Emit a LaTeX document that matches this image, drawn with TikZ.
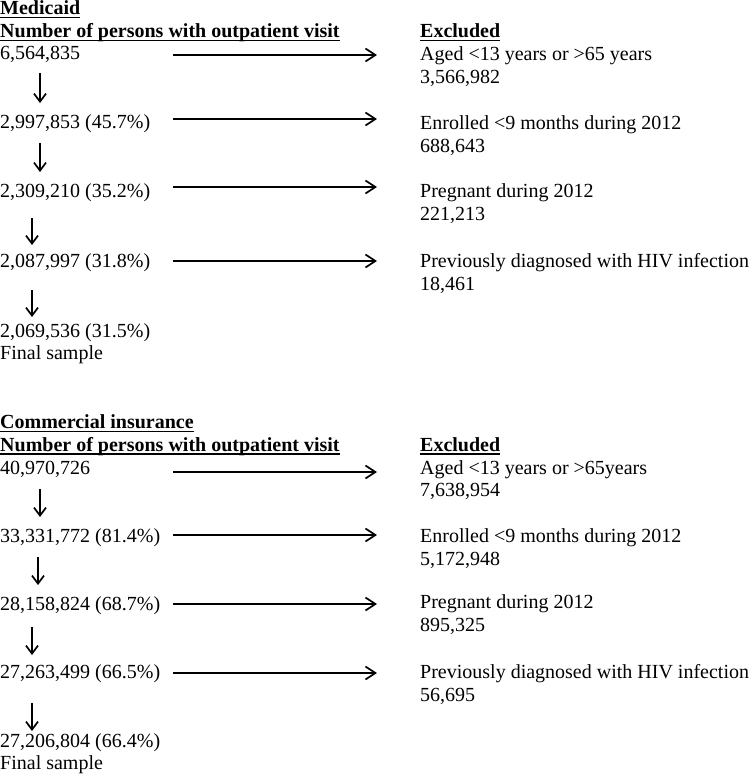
\documentclass[tikz,border=0pt]{standalone}
\usepackage{fontspec}
\setmainfont{Liberation Serif}
\usetikzlibrary{arrows.meta}
\tikzset{
  txt/.style={inner sep=0pt, anchor=base west, font=\fontsize{20}{23}\selectfont},
  hd/.style={txt, font=\fontsize{20}{23}\selectfont\bfseries},
  uline/.style={line width=1.5pt},
  harrow/.style={line width=1.7pt, -{Straight Barb[length=10pt, width=13pt, line width=1.7pt]}},
  darrow/.style={line width=1.7pt, -{Straight Barb[length=8pt, width=12pt, line width=1.7pt]}},
}
\newcommand{\ul}[1]{\draw[uline] ([yshift=-3pt]#1.base west) -- ([yshift=-3pt]#1.base east);}
\begin{document}
\begin{tikzpicture}[x=1pt, y={(0pt,-1pt)}]
\useasboundingbox (0,0) rectangle (748,777);
% ---------- Medicaid ----------
\node[hd] (mt) at (0,14.5) {Medicaid}; \ul{mt}
\node[hd] (mh) at (0,37.5) {Number of persons with outpatient visit}; \ul{mh}
\node[txt] (m0) at (0,59) {6,564,835};
\node[txt] (m1) at (0,128.5) {2,997,853 (45.7\%)};
\node[txt] (m2) at (0,197.5) {2,309,210 (35.2\%)};
\node[txt] (m3) at (0,267.5) {2,087,997 (31.8\%)};
\node[txt] (m4) at (0,337) {2,069,536 (31.5\%)};
\node[txt] (mf) at (0,359.5) {Final sample};
\node[hd] (mex) at (420,37.5) {Excluded}; \ul{mex}
\node[txt] (me1) at (420,60) {Aged <13 years or >65 years};
\node[txt] (me1n) at (420,83) {3,566,982};
\node[txt] (me2) at (420,129) {Enrolled <9 months during 2012};
\node[txt] (me2n) at (420,152) {688,643};
\node[txt] (me3) at (420,197.5) {Pregnant during 2012};
\node[txt] (me3n) at (420,220.5) {221,213};
\node[txt] (me4) at (420,267.5) {Previously diagnosed with HIV infection};
\node[txt] (me4n) at (420,290.5) {18,461};
% horizontal arrows
\coordinate (mh1a) at (173,55);  \coordinate (mh1b) at (377,55);
\coordinate (mh2a) at (173,119); \coordinate (mh2b) at (377,119);
\coordinate (mh3a) at (173,187); \coordinate (mh3b) at (377,187);
\coordinate (mh4a) at (173,261); \coordinate (mh4b) at (377,261);
\draw[harrow] (mh1a) -- (mh1b);
\draw[harrow] (mh2a) -- (mh2b);
\draw[harrow] (mh3a) -- (mh3b);
\draw[harrow] (mh4a) -- (mh4b);
% down arrows
\coordinate (md1a) at (40,73);  \coordinate (md1b) at (40,103);
\coordinate (md2a) at (40,143); \coordinate (md2b) at (40,172);
\coordinate (md3a) at (32,218); \coordinate (md3b) at (32,245);
\coordinate (md4a) at (32,290); \coordinate (md4b) at (32,317);
\draw[darrow] (md1a) -- (md1b);
\draw[darrow] (md2a) -- (md2b);
\draw[darrow] (md3a) -- (md3b);
\draw[darrow] (md4a) -- (md4b);
% ---------- Commercial ----------
\node[hd] (ct) at (0,428.5) {Commercial insurance}; \ul{ct}
\node[hd] (ch) at (0,451) {Number of persons with outpatient visit}; \ul{ch}
\node[txt] (c0) at (0,474) {40,970,726};
\node[txt] (c1) at (0,542.5) {33,331,772 (81.4\%)};
\node[txt] (c2) at (0,610.5) {28,158,824 (68.7\%)};
\node[txt] (c3) at (0,678) {27,263,499 (66.5\%)};
\node[txt] (c4) at (0,747) {27,206,804 (66.4\%)};
\node[txt] (cf) at (0,769.5) {Final sample};
\node[hd] (cex) at (420,451) {Excluded}; \ul{cex}
\node[txt] (ce1) at (420,474) {Aged <13 years or >65years};
\node[txt] (ce1n) at (420,496) {7,638,954};
\node[txt] (ce2) at (420,542) {Enrolled <9 months during 2012};
\node[txt] (ce2n) at (420,565) {5,172,948};
\node[txt] (ce3) at (420,608) {Pregnant during 2012};
\node[txt] (ce3n) at (420,631) {895,325};
\node[txt] (ce4) at (420,678) {Previously diagnosed with HIV infection};
\node[txt] (ce4n) at (420,701) {56,695};
\coordinate (ch1a) at (173,472); \coordinate (ch1b) at (377,472);
\coordinate (ch2a) at (173,535); \coordinate (ch2b) at (377,535);
\coordinate (ch3a) at (173,604); \coordinate (ch3b) at (377,604);
\coordinate (ch4a) at (173,673); \coordinate (ch4b) at (377,673);
\draw[harrow] (ch1a) -- (ch1b);
\draw[harrow] (ch2a) -- (ch2b);
\draw[harrow] (ch3a) -- (ch3b);
\draw[harrow] (ch4a) -- (ch4b);
\coordinate (cd1a) at (40,489); \coordinate (cd1b) at (40,517);
\coordinate (cd2a) at (38,557); \coordinate (cd2b) at (38,585);
\coordinate (cd3a) at (32,627); \coordinate (cd3b) at (32,655);
\coordinate (cd4a) at (32,703); \coordinate (cd4b) at (32,731);
\draw[darrow] (cd1a) -- (cd1b);
\draw[darrow] (cd2a) -- (cd2b);
\draw[darrow] (cd3a) -- (cd3b);
\draw[darrow] (cd4a) -- (cd4b);
\end{tikzpicture}
\end{document}
